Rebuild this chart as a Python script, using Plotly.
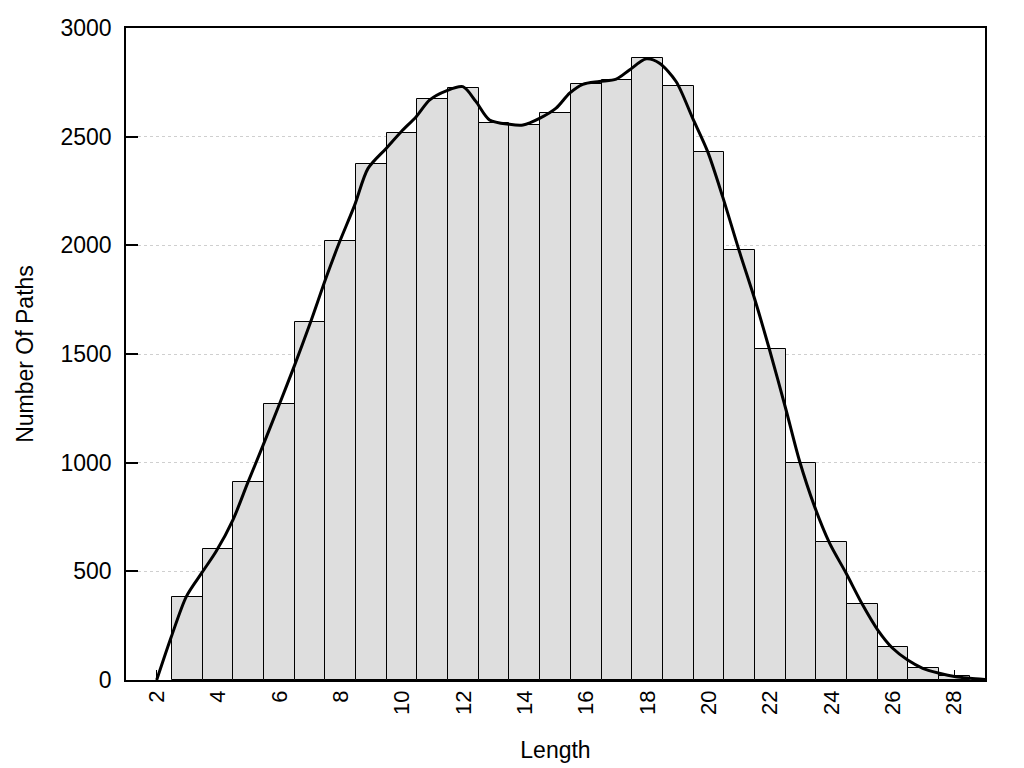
import plotly.graph_objects as go

# Histogram bars (bar centres and counts)
bar_x = [3, 4, 5, 6, 7, 8, 9, 10, 11, 12, 13, 14, 15, 16, 17, 18, 19, 20,
         21, 22, 23, 24, 25, 26, 27, 28]
bar_y = [382, 603, 912, 1269, 1648, 2018, 2375, 2518, 2672, 2726, 2564, 2554,
         2611, 2744, 2763, 2860, 2731, 2431, 1979, 1521, 1000, 635, 349, 154,
         54, 18]

# Smoothed density curve points
curve_x = [2.0, 2.48, 2.97, 3.48, 3.94, 4.49, 4.97, 5.46, 6.0, 6.5, 7.0, 7.53,
           7.96, 8.45, 8.89, 9.48, 9.97, 10.46, 10.9, 11.44, 11.98, 12.41,
           12.85, 13.5, 13.94, 14.48, 15.02, 15.46, 15.89, 16.43, 16.98, 17.41,
           17.96, 18.39, 18.93, 19.47, 19.96, 20.45, 21.0, 21.49, 21.97,
           22.52, 22.95, 23.44, 23.93, 24.47, 25.01, 25.5, 25.99, 26.48, 26.97,
           27.51, 28.05, 28.5, 29.0]
curve_y = [0, 200, 385, 495, 592, 738, 908, 1077, 1269, 1450, 1640, 1854,
           2015, 2184, 2354, 2446, 2523, 2592, 2669, 2711, 2730, 2661,
           2577, 2557, 2554, 2584, 2631, 2700, 2741, 2754, 2765, 2807,
           2858, 2838, 2754, 2585, 2431, 2223, 1969, 1754, 1523,
           1240, 1010, 800, 631, 492, 346, 231, 146, 92, 54,
           31, 15, 8, 2]

x_ticks = list(range(2, 30, 2))
y_ticks = [0, 500, 1000, 1500, 2000, 2500, 3000]

fig = go.Figure()
fig.add_trace(go.Bar(
    x=bar_x, y=bar_y, width=1,
    marker=dict(color="#dedede", line=dict(color="black", width=1)),
    showlegend=False,
))
fig.add_trace(go.Scatter(
    x=curve_x, y=curve_y, mode="lines",
    line=dict(color="black", width=3, shape="spline", smoothing=0.8),
    showlegend=False,
))

font_family = "Liberation Sans, Arial, sans-serif"
fig.update_layout(
    width=1024, height=768,
    margin=dict(l=126, r=39, t=28, b=88),
    plot_bgcolor="white", paper_bgcolor="white",
    font=dict(family=font_family, color="black", size=23),
    bargap=0,
)
fig.update_xaxes(
    range=[1, 29], tickvals=x_ticks, ticktext=[str(v) for v in x_ticks],
    tickangle=-90, ticks="inside", ticklen=10, tickwidth=1, tickcolor="black",
    showline=True, linecolor="black", linewidth=1.5, mirror=True,
    showgrid=False, zeroline=False, layer="below traces", automargin=False,
    title=dict(text="Length", font=dict(size=23), standoff=28),
    tickfont=dict(size=22),
)
fig.update_yaxes(
    range=[0, 3000], tickvals=y_ticks,
    ticks="inside", ticklen=12, tickwidth=1.5, tickcolor="black",
    showline=True, linecolor="black", linewidth=1.5, mirror=True,
    showgrid=True, gridcolor="#cfcfcf", griddash="dot", gridwidth=1,
    zeroline=False, layer="below traces", ticklabelstandoff=8, automargin=False,
    title=dict(text="Number Of Paths", font=dict(size=23), standoff=20),
    tickfont=dict(size=23),
)

fig.write_html(
    "out.html",
    config={"displayModeBar": False},
    post_script="document.body.style.margin='0';document.body.style.overflow='hidden';",
)
